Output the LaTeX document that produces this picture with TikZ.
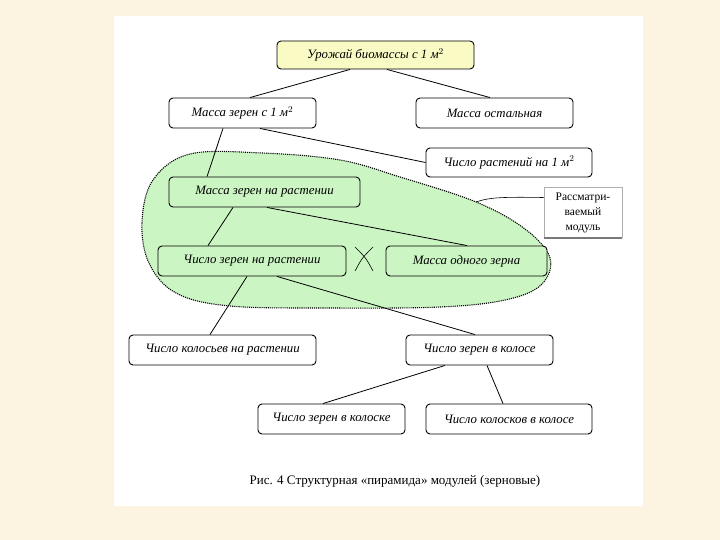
\documentclass[tikz,border=0pt]{standalone}
\usepackage{fontspec}
\setmainfont{Liberation Serif}
\usetikzlibrary{calc}
\definecolor{bgbeige}{RGB}{252,244,224}
\definecolor{blobgreen}{RGB}{204,245,196}
\definecolor{topyellow}{RGB}{250,250,196}
\definecolor{modgray}{RGB}{120,120,120}
\tikzset{
  box/.style={draw=black, line width=0.9pt, rounded corners=4pt, fill=white,
    inner sep=0pt, align=center, font=\fontsize{12.8}{14}\selectfont\itshape},
  link/.style={draw=black, line width=0.8pt},
  modbox/.style={draw=modgray!60, line width=0.6pt, fill=white, inner sep=0pt,
    align=center, font=\fontsize{11.5}{15}\selectfont,
    minimum width=78pt, minimum height=50pt},
}
\begin{document}
\begin{tikzpicture}[x=1pt,y=-1pt]
\useasboundingbox (0,0) rectangle (720,540);
\fill[bgbeige] (0,0) rectangle (720,540);
\fill[white] (114,16) rectangle (643,506);

% green module region
\coordinate (blobpt) at (476,202);
\filldraw[fill=blobgreen, draw=black, line width=1.1pt, densely dotted]
  plot[smooth cycle, tension=0.6] coordinates {
  (190,154) (262,153) (340,160) (400,177) (476,202) (525,229) (550,258)
  (541,285) (505,300) (440,307) (330,308) (230,306) (176,293) (149,263)
  (142,222) (153,180)};

% nodes
\node[box, fill=topyellow, minimum width=197pt, minimum height=28pt] (n1) at (375.5,55) {Урожай биомассы с 1 м$^2$};
\node[box, minimum width=147pt, minimum height=30pt] (n2) at (242.5,113) {Масса зерен с 1 м$^2$};
\node[box, minimum width=157pt, minimum height=30pt] (n3) at (494.5,113) {Масса остальная};
\node[box, minimum width=166pt, minimum height=29pt] (n4) at (509,162.5) {Число растений на 1 м$^2$};
\node[box, fill=blobgreen, minimum width=191pt, minimum height=30pt] (n5) at (264.5,192) {Масса зерен на растении};
\node[modbox] (n6) at (583,212.5) {Рассматри-\\ваемый\\модуль};
\draw[modgray, line width=1.6pt] (n6.south west) -- (n6.south east);
\node[box, fill=blobgreen, minimum width=188pt, minimum height=30pt] (n7) at (252,261) {Число зерен на растении};
\node[box, fill=blobgreen, minimum width=161pt, minimum height=30pt] (n8) at (466.5,261) {Масса одного зерна};
\node[box, minimum width=187pt, minimum height=30pt] (n9) at (222.5,350) {Число колосьев на растении};
\node[box, minimum width=147pt, minimum height=30pt] (n10) at (479.5,350) {Число зерен в колосе};
\node[box, minimum width=147pt, minimum height=30pt] (n11) at (331.5,419) {Число зерен в колоске};
\node[box, minimum width=166pt, minimum height=30pt] (n12) at (509,419) {Число колосков в колосе};

% connectors
\draw[link] ([xshift=-25.5pt]n1.south) -- ([xshift=7.5pt]n2.north);
\draw[link] ([xshift=11.5pt]n1.south) -- ([xshift=-4.5pt]n3.north);
\draw[link] ([xshift=-19.5pt]n2.south) -- ([xshift=-57.5pt]n5.north);
\draw[link] ([xshift=17.5pt]n2.south) -- (n4.west);
\draw[link] ([xshift=-31.5pt]n5.south) -- ([xshift=-44pt]n7.north);
\draw[link] ([xshift=2.5pt]n5.south) -- ([xshift=0.5pt]n8.north);
\draw[link] ([xshift=-5pt]n7.south) -- ([xshift=-12.5pt]n9.north);
\draw[link] ([xshift=25pt]n7.south) -- ([xshift=-4.5pt]n10.north);
\draw[link] ([xshift=-34.5pt]n10.south) -- ([xshift=-8.5pt]n11.north);
\draw[link] ([xshift=7.5pt]n10.south) -- ([xshift=-6pt]n12.north);
\draw[line width=0.6pt] ([yshift=15pt]n6.west) .. controls (505,197) and (490,197) .. (blobpt);

% cross between the two lower boxes
\coordinate (xa) at (355,247);
\coordinate (xb) at (373,271);
\coordinate (xc) at (373,247);
\coordinate (xd) at (355,271);
\draw[line width=0.6pt] (xa) .. controls (366,258) .. (xb);
\draw[line width=0.6pt] (xc) .. controls (362,258) .. (xd);

% caption
\node[font=\fontsize{13}{15}\selectfont, inner sep=0pt] (cap) at (395,481) {Рис. 4 Структурная «пирамида» модулей (зерновые)};
\end{tikzpicture}
\end{document}
